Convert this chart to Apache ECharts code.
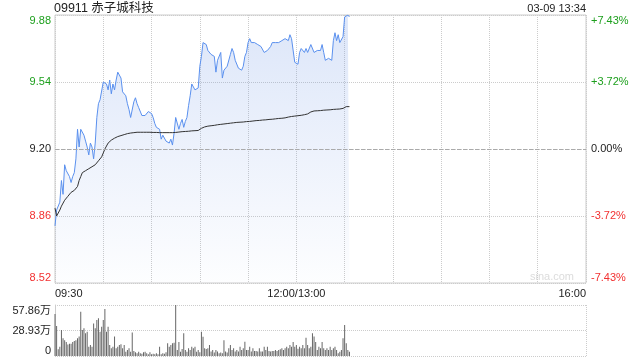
<!DOCTYPE html>
<html>
<head>
<meta charset="utf-8">
<script src="https://cdn.jsdelivr.net/npm/echarts@6/dist/echarts.min.js"></script>
<style>
html,body{margin:0;padding:0;background:#fff;}
#c{width:640px;height:360px;}
</style>
</head>
<body>
<div id="c"></div>
<script>
// ---- data ----
var stockTitle = '09911 赤子城科技';
var stamp = '03-09 13:34';
var prevClose = 9.20;
var priceTicks = ['8.52', '8.86', '9.20', '9.54', '9.88'];
var pctTicks = ['-7.43%', '-3.72%', '0.00%', '+3.72%', '+7.43%'];
var volTicks = ['0', '28.93万', '57.86万'];
var timeLabels = {0: '09:30', 150: '12:00/13:00', 330: '16:00'};

// minute-by-minute price (from 09:30)
var price = [
8.81,8.89,8.90,8.93,9.04,8.97,9.12,9.09,9.08,9.06,
9.03,9.06,9.08,9.15,9.30,9.21,9.30,9.29,9.27,9.24,
9.21,9.17,9.23,9.21,9.15,9.23,9.36,9.43,9.45,9.45,
9.54,9.54,9.53,9.50,9.55,9.48,9.53,9.50,9.55,9.59,
9.60,9.56,9.49,9.50,9.47,9.43,9.40,9.36,9.36,9.44,
9.46,9.43,9.41,9.40,9.37,9.38,9.37,9.37,9.39,9.38,
9.38,9.36,9.33,9.31,9.30,9.30,9.25,9.27,9.28,9.24,
9.25,9.23,9.25,9.22,9.28,9.36,9.36,9.30,9.33,9.35,
9.31,9.34,9.36,9.42,9.47,9.53,9.52,9.50,9.49,9.51,
9.62,9.67,9.74,9.74,9.73,9.70,9.69,9.68,9.68,9.67,
9.59,9.65,9.64,9.69,9.56,9.60,9.61,9.62,9.61,9.68,
9.71,9.69,9.65,9.64,9.61,9.60,9.60,9.62,9.67,9.69,
9.74,9.76,9.74,9.73,9.74,9.75,9.73,9.72,9.72,9.71,
9.69,9.68,9.70,9.71,9.72,9.74,9.74,9.74,9.74,9.74,
9.75,9.75,9.76,9.76,9.75,9.75,9.78,9.76,9.75,9.64,
9.63,9.63,9.69,9.71,9.70,9.69,9.71,9.69,9.70,9.73,
9.72,9.69,9.70,9.70,9.69,9.70,9.73,9.69,9.65,9.65,
9.66,9.65,9.65,9.75,9.79,9.75,9.78,9.74,9.73,9.77,
9.87,9.88,9.88,9.87
];

// minute-by-minute average price
var avgPrice = [
8.900,8.860,8.860,8.890,8.910,8.920,8.940,8.950,8.960,8.970,
8.980,8.990,8.990,9.000,9.010,9.040,9.060,9.080,9.090,9.090,
9.100,9.100,9.100,9.110,9.110,9.120,9.130,9.140,9.150,9.160,
9.180,9.200,9.210,9.230,9.240,9.245,9.250,9.255,9.260,9.263,
9.266,9.268,9.270,9.273,9.276,9.278,9.280,9.281,9.282,9.283,
9.284,9.285,9.285,9.285,9.285,9.285,9.285,9.285,9.285,9.285,
9.284,9.284,9.284,9.284,9.283,9.283,9.283,9.283,9.283,9.283,
9.283,9.283,9.283,9.283,9.283,9.284,9.285,9.286,9.287,9.288,
9.289,9.289,9.290,9.290,9.291,9.292,9.292,9.293,9.293,9.294,
9.300,9.305,9.309,9.312,9.314,9.316,9.317,9.318,9.319,9.320,
9.322,9.323,9.324,9.325,9.326,9.327,9.328,9.329,9.330,9.331,
9.332,9.333,9.334,9.335,9.335,9.336,9.336,9.337,9.338,9.339,
9.339,9.340,9.341,9.342,9.343,9.344,9.345,9.345,9.346,9.347,
9.348,9.348,9.349,9.350,9.351,9.351,9.352,9.353,9.354,9.355,
9.355,9.356,9.357,9.358,9.360,9.362,9.364,9.365,9.366,9.367,
9.368,9.369,9.370,9.371,9.372,9.374,9.376,9.378,9.383,9.388,
9.392,9.393,9.394,9.394,9.395,9.395,9.396,9.397,9.398,9.398,
9.399,9.399,9.400,9.401,9.401,9.402,9.402,9.403,9.403,9.406,
9.413,9.415,9.415,9.415
];

// minute-by-minute volume, in 万 shares
var volume = [
47.6,34.0,7.6,10.6,29.5,20.0,18.0,16.0,13.0,14.0,
14.0,16.0,17.0,18.0,20.0,22.0,50.3,29.5,31.4,25.7,
27.6,10.6,12.5,10.6,37.0,31.4,40.8,42.7,27.6,33.3,
40.8,53.3,27.6,33.3,12.5,8.7,10.6,22.0,8.7,10.6,
12.5,13.2,8.7,12.5,4.9,6.8,8.7,4.9,26.8,5.7,
4.2,3.0,4.9,3.0,2.6,4.2,4.9,3.0,1.9,4.2,
1.9,2.6,1.9,3.0,1.9,10.6,1.9,3.0,2.6,4.2,
14.4,10.6,12.5,14.4,15.0,57.86,6.8,16.0,4.9,8.0,
25.7,6.8,4.9,8.7,6.8,10.6,8.7,10.6,4.9,6.8,
4.2,27.6,21.9,8.7,8.0,8.7,12.5,5.0,6.8,4.0,
6.8,5.0,3.0,4.0,3.0,18.0,5.0,4.0,8.7,12.5,
6.8,8.7,5.0,6.8,5.0,10.6,6.8,8.7,16.3,6.8,
6.8,10.6,5.0,8.7,5.7,5.7,5.0,8.7,5.0,5.0,
10.6,6.8,10.6,5.7,5.0,5.7,5.7,6.8,5.7,6.8,
7.6,8.7,6.8,8.7,10.6,8.7,12.5,10.6,16.0,10.6,
12.5,8.2,10.6,8.7,12.5,8.7,20.8,12.5,8.7,10.6,
25.7,22.0,16.0,6.8,10.6,8.7,16.0,8.7,6.8,8.7,
6.8,10.6,6.8,8.7,10.6,6.8,3.0,4.9,6.8,20.0,
35.2,14.4,6.8,4.9
];

// ---- chart ----
var GREEN = '#1c9f1c', RED = '#f23030', DARK = '#222';
function off(p) { return Math.round((p - prevClose) * 1000) / 10; } // cents from prev close
var priceData = price.map(function (p, i) { return [i, off(p)]; });
var avgData = avgPrice.map(function (p, i) { return [i, off(p)]; });
var volData = volume.map(function (v, i) { return [i, v]; });
function tickIdx(v) { return Math.round((v + 68) / 34); }
function tickColor(v) { var k = tickIdx(v); return k > 2 ? GREEN : (k < 2 ? RED : DARK); }

var font = '"Liberation Sans", Arial, "Noto Sans CJK SC", sans-serif';
var chart = echarts.init(document.getElementById('c'), null, {renderer: 'canvas'});
chart.setOption({
  animation: false,
  backgroundColor: '#fff',
  textStyle: {fontFamily: font},
  title: [
    {text: stockTitle, left: 54, top: 2, padding: 0,
     textStyle: {fontSize: 12.5, fontWeight: 'normal', color: DARK, fontFamily: font}},
    {text: stamp, right: 54, top: 3, padding: 0,
     textStyle: {fontSize: 11, fontWeight: 'normal', color: DARK, fontFamily: font}}
  ],
  graphic: [
    {type: 'text', right: 66, top: 271, silent: true,
     style: {text: 'sina.com', fill: '#dcdcdc', font: '11px ' + font}}
  ],
  grid: [
    {left: 55, right: 54, top: 15, height: 268, show: true, borderColor: '#cccccc', borderWidth: 1},
    {left: 55, right: 54, top: 305, height: 51, show: false}
  ],
  xAxis: [
    {gridIndex: 0, type: 'value', min: 0, max: 330, interval: 30,
     axisLine: {show: false}, axisTick: {show: false},
     splitLine: {show: true, lineStyle: {color: '#cccccc', type: 'dotted', width: 1}},
     axisLabel: {show: true, margin: 5, fontSize: 11, color: DARK, fontFamily: font,
       showMinLabel: true, showMaxLabel: true, alignMinLabel: 'left', alignMaxLabel: 'right',
       formatter: function (v) { return timeLabels[v] || ''; }}},
    {gridIndex: 1, type: 'value', min: 0, max: 330, interval: 330,
     axisLine: {show: false}, axisTick: {show: false}, axisLabel: {show: false},
     splitLine: {show: true, lineStyle: {color: '#cccccc', type: 'dotted', width: 1}}}
  ],
  yAxis: [
    {gridIndex: 0, type: 'value', min: -68, max: 68, interval: 34, position: 'left',
     axisLine: {show: false}, axisTick: {show: false},
     splitLine: {show: true, lineStyle: {color: '#cccccc', type: 'dotted', width: 1}},
     axisLabel: {margin: 4, fontSize: 11, fontFamily: font,
       verticalAlignMinLabel: 'bottom', verticalAlignMaxLabel: 'top',
       color: function (v) { return tickColor(v); },
       formatter: function (v) { return priceTicks[tickIdx(v)]; }}},
    {gridIndex: 0, type: 'value', min: -68, max: 68, interval: 34, position: 'right',
     axisLine: {show: false}, axisTick: {show: false}, splitLine: {show: false},
     axisLabel: {margin: 5, fontSize: 11, fontFamily: font,
       verticalAlignMinLabel: 'bottom', verticalAlignMaxLabel: 'top',
       color: function (v) { return tickColor(v); },
       formatter: function (v) { return pctTicks[tickIdx(v)]; }}},
    {gridIndex: 1, type: 'value', min: 0, max: 57.86, interval: 28.93,
     axisLine: {show: true, lineStyle: {color: '#cccccc', width: 1}}, axisTick: {show: false},
     splitLine: {show: true, lineStyle: {color: '#cccccc', type: 'dotted', width: 1}},
     axisLabel: {margin: 4, fontSize: 11, color: DARK, fontFamily: font,
       verticalAlignMinLabel: 'bottom', verticalAlignMaxLabel: 'top',
       formatter: function (v) { return volTicks[Math.round(v / 28.93)]; }}}
  ],
  series: [
    {type: 'line', xAxisIndex: 0, yAxisIndex: 0, data: priceData, symbol: 'none',
     lineStyle: {color: '#5a90ee', width: 1}, itemStyle: {color: '#5a90ee'},
     areaStyle: {origin: 'start', color: new echarts.graphic.LinearGradient(0, 0, 0, 1, [
       {offset: 0, color: 'rgba(110,150,230,0.34)'},
       {offset: 1, color: 'rgba(110,150,230,0.02)'}])},
     markLine: {silent: true, symbol: 'none', label: {show: false},
       lineStyle: {color: '#aaaaaa', type: 'dashed', width: 1}, data: [{yAxis: 0}]}},
    {type: 'line', xAxisIndex: 0, yAxisIndex: 0, data: avgData, symbol: 'none',
     lineStyle: {color: '#333333', width: 1}, itemStyle: {color: '#333'}},
    {type: 'bar', xAxisIndex: 1, yAxisIndex: 2, data: volData, barWidth: 1,
     itemStyle: {color: '#666666'}}
  ]
});
</script>
</body>
</html>
